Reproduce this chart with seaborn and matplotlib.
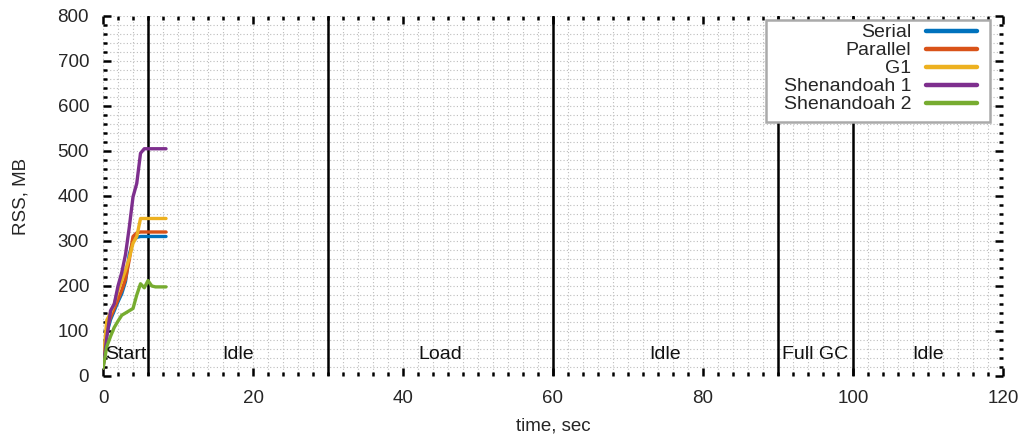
import numpy as np
import pandas as pd
import matplotlib
matplotlib.use("Agg")
import matplotlib.pyplot as plt
from matplotlib.patches import Rectangle
from matplotlib.ticker import MultipleLocator
import seaborn as sns

# Sampled RSS (MB) during the start phase of each collector
time_s = [0.0, 0.5, 1.0, 1.5, 2.0, 2.5, 3.0, 3.5, 4.0, 4.5, 5.0, 5.5, 6.0, 6.5, 7.0, 7.5, 8.0, 8.4]
serial = [20, 95, 125, 145, 165, 183, 210, 270, 300, 308, 310, 310, 310, 310, 310, 310, 310, 310]
parallel = [20, 105, 130, 150, 170, 190, 215, 258, 310, 318, 320, 320, 320, 320, 320, 320, 320, 320]
g1 = [25, 124, 140, 160, 190, 212, 235, 262, 295, 310, 350, 350, 350, 350, 350, 350, 350, 350]
shen1 = [17, 85, 145, 160, 200, 230, 270, 330, 398, 428, 495, 505, 505, 505, 505, 505, 505, 505]
shen2 = [17, 65, 88, 108, 122, 135, 140, 145, 150, 180, 205, 196, 212, 200, 198, 198, 198, 198]

series_names = ["Serial", "Parallel", "G1", "Shenandoah 1", "Shenandoah 2"]
series_values = [serial, parallel, g1, shen1, shen2]
colors = ["#0072bd", "#d95319", "#edb120", "#7e2f8e", "#77ac30"]

# Phase boundaries and labels
phase_bounds = [6, 30, 60, 90, 100]
phase_labels = ["Start", "Idle", "Load", "Idle", "Full GC", "Idle"]
phase_centers = [3, 18, 45, 75, 95, 110]

frames = [pd.DataFrame({"time": time_s, "rss": v, "gc": n})
          for n, v in zip(series_names, series_values)]
df = pd.concat(frames, ignore_index=True)

sns.set_theme(style="white")
plt.rcParams["font.family"] = ["Liberation Sans", "DejaVu Sans"]

fig = plt.figure(figsize=(10.25, 4.37), dpi=100)
ax = fig.add_axes([0.1005, 0.1396, 0.878, 0.8238])

sns.lineplot(data=df, x="time", y="rss", hue="gc", hue_order=series_names,
             palette=colors, linewidth=2.4, ax=ax, legend=False, zorder=5)

for b in phase_bounds:
    ax.axvline(b, color="black", linewidth=1.8, zorder=4)

for c, lab in zip(phase_centers, phase_labels):
    ax.text(c, 47, lab, ha="center", va="center", fontsize=14, color="#111111", zorder=6)

ax.set_xlim(0, 120)
ax.set_ylim(0, 800)
ax.xaxis.set_major_locator(MultipleLocator(20))
ax.xaxis.set_minor_locator(MultipleLocator(2))
ax.yaxis.set_major_locator(MultipleLocator(100))
ax.yaxis.set_minor_locator(MultipleLocator(20))

ax.grid(which="both", color="#bdbdbd", linestyle=(0, (1, 2)), linewidth=0.8, zorder=0)
ax.set_axisbelow(True)

for s in ax.spines.values():
    s.set_visible(False)

ax.tick_params(which="both", direction="in", top=True, right=True,
               bottom=True, left=True, color="black")
ax.tick_params(which="major", length=6, width=1.8, labelsize=13.5, pad=10)
ax.tick_params(which="minor", length=3, width=1.8)

ax.set_xlabel("time, sec", fontsize=13.5, labelpad=8)
ax.set_ylabel("RSS, MB", fontsize=13.5, labelpad=20)

# Legend box drawn as its own frame, entries placed inside it
ax.add_patch(Rectangle((0.7367, 0.7056), 0.2489, 0.2833, transform=ax.transAxes,
                       facecolor="white", edgecolor="#aaaaaa", linewidth=1.8,
                       zorder=9, clip_on=False))
handles = [plt.Line2D([], [], color=c, linewidth=3.2) for c in colors]
leg = ax.legend(handles, series_names, loc="upper right",
                bbox_to_anchor=(0.9778, 0.9946), borderaxespad=0,
                markerfirst=False, fontsize=14, handlelength=2.65,
                handletextpad=0.75, labelspacing=0.02, borderpad=0.3,
                frameon=False)
leg.set_zorder(10)

fig.savefig("out.png", dpi=100)
